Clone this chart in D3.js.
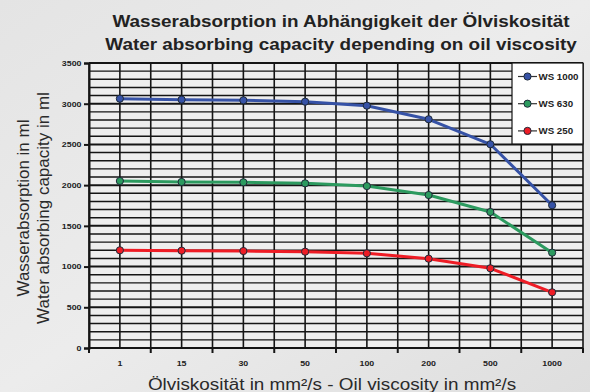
<!DOCTYPE html>
<html>
<head>
<meta charset="utf-8">
<script src="https://cdn.jsdelivr.net/npm/d3@7/dist/d3.min.js"></script>
<style>
  html, body { margin: 0; padding: 0; }
  body { width: 590px; height: 392px; overflow: hidden; }
  svg { display: block; }
</style>
</head>
<body>
<svg id="chart" width="590" height="392"></svg>
<script>
// Viscosity categories (mm²/s)
const categories = ["1", "15", "30", "50", "100", "200", "500", "1000"];
// Water absorbing capacity (ml) per filter element
const ws1000 = [3062, 3050, 3042, 3025, 2976, 2809, 2502, 1753];
const ws630  = [2051, 2039, 2035, 2022, 1989, 1879, 1670, 1171];
const ws250  = [1200, 1195, 1191, 1183, 1163, 1097, 979, 684];
const seriesNames = ["WS 1000", "WS 630", "WS 250"];
const seriesColors = ["#3652a6", "#2c9a5f", "#ee1c25"];
const yTicks = [0, 500, 1000, 1500, 2000, 2500, 3000, 3500];

const series = [ws1000, ws630, ws250].map((v, i) => ({ name: seriesNames[i], color: seriesColors[i], values: v }));

const FONT = "Arial, 'Liberation Sans', sans-serif";
const WIDEN = 1.18; // lettering is set slightly wide

// Widen text horizontally by a factor, keeping its anchor
function widen(sel, k) {
  sel.each(function () {
    const len = this.getComputedTextLength();
    d3.select(this).attr("textLength", len * k).attr("lengthAdjust", "spacingAndGlyphs");
  });
}

const svg = d3.select("#chart");
const W = 590, H = 392;
const m = { left: 89, right: 7, top: 63, bottom: 44 };
const pw = W - m.left - m.right, ph = H - m.top - m.bottom;

// Background: soft gray gradient
const defs = svg.append("defs");
const bg = defs.append("linearGradient").attr("id", "bg").attr("x1", "0").attr("y1", "0").attr("x2", "1").attr("y2", "1");
bg.append("stop").attr("offset", "0%").attr("stop-color", "#e4e4e4");
bg.append("stop").attr("offset", "50%").attr("stop-color", "#ececec");
bg.append("stop").attr("offset", "100%").attr("stop-color", "#dedede");
svg.append("rect").attr("width", W).attr("height", H).attr("fill", "url(#bg)");

const x = d3.scaleBand().domain(categories).range([0, pw]).padding(0);
const y = d3.scaleLinear().domain([0, 3500]).range([ph, 0]);
const g = svg.append("g").attr("transform", `translate(${m.left},${m.top})`);

g.append("rect").attr("width", pw).attr("height", ph).attr("fill", "#eeeeee");

// Horizontal grid every 100 ml
const hLines = d3.range(0, 3501, 100);
g.append("g").selectAll("line").data(hLines).join("line")
  .attr("x1", 0).attr("x2", pw)
  .attr("y1", d => y(d)).attr("y2", d => y(d))
  .attr("stroke", "#151515")
  .attr("stroke-width", d => d % 500 === 0 ? 2 : 1.4);

// Vertical grid at category centres and boundaries
const vPos = [];
categories.forEach(c => { vPos.push(x(c)); vPos.push(x(c) + x.bandwidth() / 2); });
vPos.push(pw);
g.append("g").selectAll("line").data(vPos).join("line")
  .attr("x1", d => d).attr("x2", d => d)
  .attr("y1", 0).attr("y2", ph)
  .attr("stroke", "#151515").attr("stroke-width", 1.6);

// Y axis
const yAxis = g.append("g").call(d3.axisLeft(y).tickValues(yTicks).tickFormat(d3.format("d")).tickSize(5).tickPadding(2.5));
yAxis.select(".domain").attr("stroke", "#151515").attr("stroke-width", 2);
yAxis.selectAll(".tick line").attr("stroke", "#151515").attr("stroke-width", 2);
yAxis.selectAll("text").attr("font-family", FONT)
  .attr("font-size", 7.5).attr("font-weight", "bold").attr("fill", "#222");
widen(yAxis.selectAll("text"), WIDEN);

// X axis: ticks on category boundaries, labels centred
const xAxisG = g.append("g").attr("transform", `translate(0,${ph})`);
xAxisG.append("line").attr("x1", 0).attr("x2", pw).attr("stroke", "#151515").attr("stroke-width", 2);
const bounds = categories.map(c => x(c)).concat([pw]);
xAxisG.selectAll("line.tk").data(bounds).join("line").attr("class", "tk")
  .attr("x1", d => d).attr("x2", d => d).attr("y1", 0).attr("y2", 5)
  .attr("stroke", "#151515").attr("stroke-width", 2);
const xLabels = xAxisG.selectAll("text").data(categories).join("text")
  .attr("x", d => x(d) + x.bandwidth() / 2).attr("y", 18)
  .attr("text-anchor", "middle")
  .attr("font-family", FONT)
  .attr("font-size", 7.5).attr("font-weight", "bold").attr("fill", "#222")
  .text(d => d);
widen(xLabels, WIDEN);

// Series lines and markers
const line = d3.line()
  .x((d, i) => x(categories[i]) + x.bandwidth() / 2)
  .y(d => y(d));
series.forEach(s => {
  g.append("path").datum(s.values).attr("d", line)
    .attr("fill", "none").attr("stroke", s.color).attr("stroke-width", 3).attr("stroke-linejoin", "round");
  g.append("g").selectAll("circle").data(s.values).join("circle")
    .attr("cx", (d, i) => x(categories[i]) + x.bandwidth() / 2)
    .attr("cy", d => y(d)).attr("r", 3.6)
    .attr("fill", s.color).attr("stroke", "#1e2a3a").attr("stroke-width", 1);
});

// Legend
const lg = g.append("g").attr("transform", `translate(${pw - 71},0)`);
lg.append("rect").attr("width", 71).attr("height", 81).attr("fill", "#ffffff")
  .attr("stroke", "#151515").attr("stroke-width", 1.2);
series.forEach((s, i) => {
  const ly = 13.5 + i * 27.2;
  lg.append("line").attr("x1", 6).attr("x2", 25).attr("y1", ly).attr("y2", ly)
    .attr("stroke", "#333").attr("stroke-width", 1.2);
  lg.append("circle").attr("cx", 15.5).attr("cy", ly).attr("r", 3.6)
    .attr("fill", s.color).attr("stroke", "#1e2a3a").attr("stroke-width", 1);
  const t = lg.append("text").attr("x", 26.5).attr("y", ly + 3.3)
    .attr("font-family", FONT)
    .attr("font-size", 9).attr("font-weight", "bold").attr("fill", "#222")
    .text(s.name);
  widen(t, 1.08);
});

// Titles
const titleLines = [
  { text: "Wasserabsorption in Abhängigkeit der Ölviskosität", y: 27 },
  { text: "Water absorbing capacity depending on oil viscosity", y: 50 }
];
titleLines.forEach(tl => {
  const t = svg.append("text").attr("x", 341).attr("y", tl.y).attr("text-anchor", "middle")
    .attr("font-family", FONT)
    .attr("font-size", 16).attr("font-weight", "bold").attr("fill", "#222")
    .text(tl.text);
  widen(t, WIDEN);
});

const xt = svg.append("text").attr("x", 332).attr("y", 390).attr("text-anchor", "middle")
  .attr("font-family", FONT)
  .attr("font-size", 16).attr("fill", "#2a2a2a")
  .text("Ölviskosität in mm²/s - Oil viscosity in mm²/s");
widen(xt, WIDEN);

const yTitleLines = [
  { text: "Wasserabsorption in ml", y: 29 },
  { text: "Water absorbing capacity in ml", y: 48.5 }
];
yTitleLines.forEach(tl => {
  svg.append("text").attr("text-anchor", "middle")
    .attr("transform", "translate(0,208) rotate(-90)")
    .attr("x", 0).attr("y", tl.y)
    .attr("font-family", FONT)
    .attr("font-size", 17).attr("fill", "#2a2a2a")
    .text(tl.text);
});
</script>
</body>
</html>
